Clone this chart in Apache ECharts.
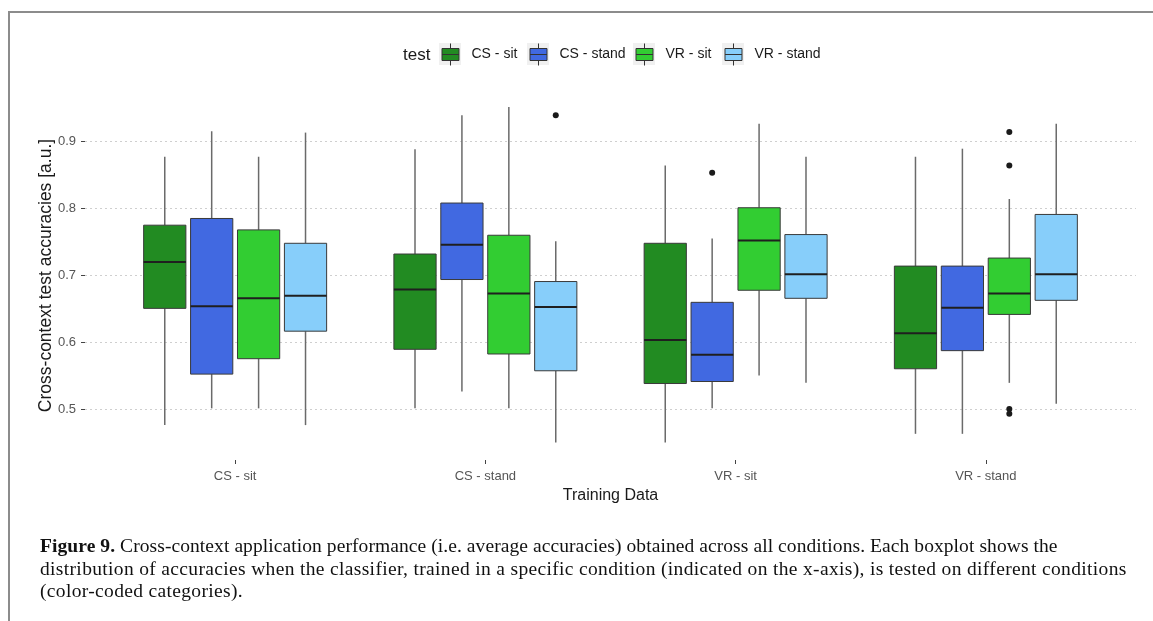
<!DOCTYPE html>
<html>
<head>
<meta charset="utf-8">
<script src="https://cdn.jsdelivr.net/npm/echarts@6/dist/echarts.min.js"></script>
<style>
  html, body { margin: 0; padding: 0; background: #fff; }
  #wrap { position: relative; width: 1153px; height: 621px; overflow: hidden; }
  #frame { position: absolute; left: 8px; top: 11px; right: -4px; bottom: -4px;
           border-top: 2px solid #8c8c8c; border-left: 2px solid #8c8c8c; }
  #chart { position: absolute; left: 0; top: 0; width: 1153px; height: 621px; }
  #caption { position: absolute; left: 40px; top: 535px; font-family: "Liberation Serif", serif;
             font-size: 19.5px; line-height: 22.6px; color: #111; white-space: nowrap; }
  #caption span { display: block; }
  #caption .l1 { letter-spacing: 0.08px; }
  #caption .l2, #caption .l3 { letter-spacing: 0.34px; }
  #caption b { font-weight: bold; }
</style>
</head>
<body>
<div id="wrap">
  <div id="frame"></div>
  <div id="chart"></div>
  <div id="caption"><span class="l1"><b>Figure 9.</b> Cross-context application performance (i.e. average accuracies) obtained across all conditions. Each boxplot shows the</span><span class="l2">distribution of accuracies when the classifier, trained in a specific condition (indicated on the x-axis), is tested on different conditions</span><span class="l3">(color-coded categories).</span></div>
</div>
<script>
// Training conditions (x axis) and test conditions (colour groups)
const trainingCategories = ['CS - sit', 'CS - stand', 'VR - sit', 'VR - stand'];
const testNames = ['CS - sit', 'CS - stand', 'VR - sit', 'VR - stand'];
const testColors = ['#228B22', '#4169E1', '#32CD32', '#87CEFA'];

// Box statistics per training condition: [lower whisker, Q1, median, Q3, upper whisker]
const testCsSit = [
  [0.477, 0.651, 0.720, 0.775, 0.877],
  [0.502, 0.590, 0.679, 0.732, 0.888],
  [0.451, 0.539, 0.604, 0.748, 0.864],
  [0.464, 0.561, 0.614, 0.714, 0.877]
];
const testCsStand = [
  [0.502, 0.553, 0.654, 0.785, 0.915],
  [0.527, 0.694, 0.746, 0.808, 0.939],
  [0.502, 0.542, 0.582, 0.660, 0.755],
  [0.464, 0.588, 0.652, 0.714, 0.889]
];
const testVrSit = [
  [0.502, 0.576, 0.666, 0.768, 0.877],
  [0.502, 0.583, 0.673, 0.760, 0.951],
  [0.551, 0.678, 0.752, 0.801, 0.926],
  [0.540, 0.642, 0.673, 0.726, 0.814]
];
const testVrStand = [
  [0.477, 0.617, 0.670, 0.748, 0.913],
  [0.451, 0.558, 0.653, 0.691, 0.751],
  [0.540, 0.666, 0.702, 0.761, 0.877],
  [0.509, 0.663, 0.702, 0.791, 0.926]
];

// Outliers: [training index, test index, accuracy]
const outliers = [
  [1, 3, 0.939],
  [2, 1, 0.853],
  [3, 2, 0.914],
  [3, 2, 0.864],
  [3, 2, 0.501],
  [3, 2, 0.494]
];

const yTicks = [0.5, 0.6, 0.7, 0.8, 0.9];

// Dodge layout: 4 boxes share 0.75 of each category slot
const DODGE_WIDTH = 0.75;
const BOX_WIDTH = DODGE_WIDTH / 4 * 0.9;
function dodgeOffset(testIdx) {
  return (testIdx - 1.5) * DODGE_WIDTH / 4;
}

const boxSets = [testCsSit, testCsStand, testVrSit, testVrStand];

function boxRenderer(testIdx) {
  return function (params, api) {
    const x = api.value(0) + dodgeOffset(testIdx);
    const pMin = api.coord([x, api.value(1)]);
    const pQ1 = api.coord([x, api.value(2)]);
    const pMed = api.coord([x, api.value(3)]);
    const pQ3 = api.coord([x, api.value(4)]);
    const pMax = api.coord([x, api.value(5)]);
    const half = api.size([BOX_WIDTH, 0])[0] / 2;
    const whisker = { stroke: '#6a6a6a', lineWidth: 1.5 };
    return {
      type: 'group',
      children: [
        { type: 'line', shape: { x1: pMax[0], y1: pMax[1], x2: pQ3[0], y2: pQ3[1] }, style: whisker },
        { type: 'line', shape: { x1: pQ1[0], y1: pQ1[1], x2: pMin[0], y2: pMin[1] }, style: whisker },
        { type: 'rect', shape: { x: pQ3[0] - half, y: pQ3[1], width: half * 2, height: pQ1[1] - pQ3[1] },
          style: { fill: testColors[testIdx], stroke: '#3a3a3a', lineWidth: 1 } },
        { type: 'line', shape: { x1: pMed[0] - half, y1: pMed[1], x2: pMed[0] + half, y2: pMed[1] },
          style: { stroke: '#1f1f1f', lineWidth: 2 } }
      ]
    };
  };
}

const boxSeries = boxSets.map(function (set, testIdx) {
  return {
    name: testNames[testIdx],
    type: 'custom',
    itemStyle: { color: testColors[testIdx] },
    encode: { x: 0, y: [1, 2, 3, 4, 5] },
    data: set.map(function (s, catIdx) { return [catIdx + 1].concat(s); }),
    renderItem: boxRenderer(testIdx),
    silent: true
  };
});

const outlierSeries = {
  name: 'outliers',
  type: 'custom',
  encode: { x: 0, y: 2 },
  data: outliers.map(function (o) { return [o[0] + 1, o[1], o[2]]; }),
  renderItem: function (params, api) {
    const x = api.value(0) + dodgeOffset(api.value(1));
    const p = api.coord([x, api.value(2)]);
    return { type: 'circle', shape: { cx: p[0], cy: p[1], r: 3 }, style: { fill: '#1a1a1a' } };
  },
  silent: true
};

// Box-shaped legend key: whiskers, box and median line
const keyIcon = 'path://M8.5,0 L8.5,5 M0,5 L17,5 L17,17 L0,17 Z M0,11 L17,11 M8.5,17 L8.5,22';

// One legend block per test condition, each sitting on its grey key square
const keyBgX = [439, 527, 633, 722];
const LEGEND_TOP = 43;

const legends = testNames.map(function (n, i) {
  return {
    data: [{ name: n, icon: keyIcon }],
    left: keyBgX[i] + 2.5,
    top: LEGEND_TOP,
    padding: 0,
    itemWidth: 17,
    itemHeight: 22,
    itemStyle: { borderColor: '#333', borderWidth: 1 },
    textStyle: { fontSize: 14, color: '#1a1a1a', padding: [0, 0, 0, 7.5] },
    selectedMode: false
  };
});

const chart = echarts.init(document.getElementById('chart'), null, { renderer: 'canvas' });
chart.setOption({
  backgroundColor: 'transparent',
  animation: false,
  textStyle: { fontFamily: 'Liberation Sans, Arial, sans-serif' },
  grid: { left: 85, right: 17, top: 91, height: 369 },
  graphic: [
    { type: 'text', left: 403, top: LEGEND_TOP + 4, style: { text: 'test', fontSize: 17, fill: '#1a1a1a',
      fontFamily: 'Liberation Sans, Arial, sans-serif' } }
  ].concat(keyBgX.map(function (x) {
    return { type: 'rect', z: -1, shape: { x: x, y: LEGEND_TOP, width: 22, height: 22 }, style: { fill: '#f0f0f0' } };
  })),
  legend: legends,
  xAxis: {
    type: 'value',
    min: 0.4,
    max: 4.6,
    name: 'Training Data',
    nameLocation: 'middle',
    nameGap: 28,
    nameMoveOverlap: false,
    nameTextStyle: { fontSize: 16, color: '#1a1a1a' },
    axisLine: { show: false },
    axisTick: { show: true, customValues: [1, 2, 3, 4], length: 4, lineStyle: { color: '#444' } },
    axisLabel: { customValues: [1, 2, 3, 4], margin: 10, fontSize: 13, color: '#555',
      formatter: function (v) { return trainingCategories[Math.round(v) - 1]; } },
    splitLine: { show: false }
  },
  yAxis: {
    type: 'value',
    min: 0.425,
    max: 0.975,
    name: 'Cross-context test accuracies [a.u.]',
    nameLocation: 'middle',
    nameGap: 30,
    nameMoveOverlap: false,
    nameTextStyle: { fontSize: 17.5, color: '#1a1a1a' },
    axisLine: { show: false },
    axisTick: { show: true, customValues: yTicks, length: 4, lineStyle: { color: '#444' } },
    axisLabel: { customValues: yTicks, margin: 9, fontSize: 13, color: '#555',
      formatter: function (v) { return v.toFixed(1); } },
    splitLine: { show: true, lineStyle: { color: '#cfcfcf', type: [2, 3], width: 1 } }
  },
  series: boxSeries.concat([outlierSeries])
});
</script>
</body>
</html>
